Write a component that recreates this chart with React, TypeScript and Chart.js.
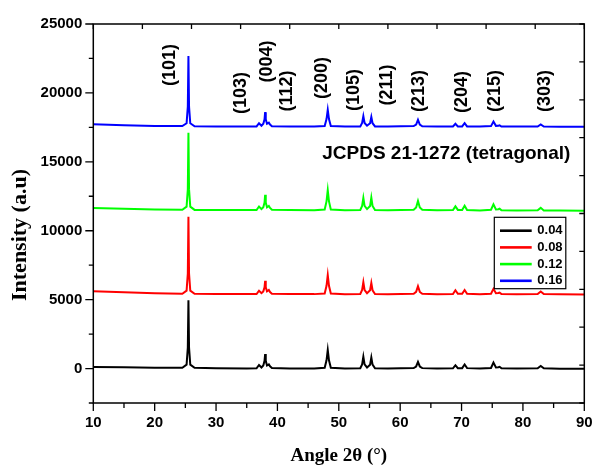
import React, { useEffect, useRef } from 'react';
import { Chart, registerables } from 'chart.js';

Chart.register(...registerables);

// 2θ positions (degrees)
const twoTheta = [
  10, 15, 20, 24.5, 25.2, 25.4, 25.5, 25.6, 25.8, 26.5,
  30, 35, 36.6, 37.0, 37.4, 37.7, 37.9, 38.0, 38.1, 38.3,
  38.6, 38.8, 39.1, 42, 46, 47.7, 48.0, 48.2, 48.4, 48.7,
  51, 53.5, 53.8, 54.0, 54.2, 54.6, 55.1, 55.3, 55.5, 55.9,
  58, 62.2, 62.6, 62.9, 63.2, 63.6, 66, 68.6, 69.0, 69.4,
  70.1, 70.5, 70.9, 73, 74.8, 75.2, 75.6, 76.0, 76.2, 76.5,
  79, 82.4, 82.9, 83.4, 86, 90,
];

const intensity004 = [
  120, 100, 60, 60, 280, 1530, 4960, 1530, 280, 60,
  20, 10, 20, 260, 80, 220, 560, 1050, 560, 220,
  300, 160, 40, 10, 10, 60, 600, 1350, 600, 60,
  0, 20, 300, 860, 300, 80, 280, 800, 280, 20,
  0, 40, 150, 480, 150, 30, 0, 20, 240, 30,
  30, 290, 30, 0, 40, 435, 80, 100, 130, 20,
  0, 20, 190, 20, -10, -20,
];

const intensity008 = [
  5600, 5530, 5460, 5430, 5650, 6900, 11010, 6900, 5650, 5430,
  5400, 5400, 5410, 5650, 5470, 5600, 5890, 6370, 5890, 5600,
  5700, 5550, 5430, 5400, 5400, 5450, 6000, 6780, 6000, 5450,
  5395, 5410, 5700, 6265, 5700, 5470, 5680, 6205, 5680, 5410,
  5390, 5430, 5560, 5970, 5560, 5420, 5390, 5410, 5680, 5420,
  5420, 5700, 5420, 5390, 5430, 5780, 5460, 5480, 5510, 5400,
  5390, 5400, 5590, 5400, 5385, 5380,
];

const intensity012 = [
  11650, 11600, 11540, 11520, 11750, 13000, 17110, 13000, 11750, 11510,
  11500, 11495, 11505, 11760, 11570, 11700, 12050, 12605, 12050, 11700,
  11800, 11650, 11520, 11495, 11490, 11540, 12130, 12940, 12130, 11540,
  11490, 11505, 11800, 12380, 11800, 11570, 11800, 12400, 11800, 11510,
  11485, 11530, 11690, 12165, 11690, 11520, 11480, 11500, 11770, 11510,
  11510, 11820, 11510, 11475, 11520, 11910, 11540, 11560, 11600, 11480,
  11470, 11480, 11660, 11475, 11460, 11450,
];

const intensity016 = [
  17720, 17660, 17600, 17590, 17800, 19000, 22680, 19000, 17800, 17580,
  17565, 17560, 17570, 17800, 17620, 17760, 18080, 18605, 18080, 17760,
  17840, 17700, 17580, 17560, 17560, 17600, 18100, 18770, 18100, 17600,
  17560, 17570, 17820, 18310, 17820, 17620, 17800, 18260, 17800, 17570,
  17555, 17590, 17700, 18050, 17700, 17580, 17555, 17570, 17760, 17570,
  17570, 17800, 17570, 17555, 17590, 17920, 17610, 17620, 17650, 17560,
  17555, 17560, 17710, 17560, 17552, 17550,
];

const seriesLabels = ['0.04', '0.08', '0.12', '0.16'];
const seriesValues = [intensity004, intensity008, intensity012, intensity016];
const seriesColors = ['#000000', '#ff0000', '#00ff00', '#0000ff'];

// tick values
const bottomMajorTicks = [10, 20, 30, 40, 50, 60, 70, 80, 90];
const bottomMinorTicks = [15, 25, 35, 45, 55, 65, 75, 85];
const leftMajorTicks = [0, 5000, 10000, 15000, 20000, 25000];
const leftMinorTicks = [-2500, 2500, 7500, 12500, 17500, 22500];
const topTicks = [10, 18, 26, 34, 42, 50, 58, 66, 74, 82, 90];
const rightTicks = [-2500, 250, 3000, 5750, 8500, 11250, 14000, 16750, 19500, 22250, 25000];

// (hkl) labels: text, 2θ, intensity
const peakLabels = ['(101)', '(103)', '(004)', '(112)', '(200)', '(105)', '(211)', '(213)', '(204)', '(215)', '(303)'];
const peakLabelX = [22.5, 34.0, 38.3, 41.5, 47.2, 52.5, 57.9, 63.0, 70.1, 75.4, 83.6];
const peakLabelY = [22023, 19990, 22277, 20135, 21079, 20208, 20571, 20135, 20062, 20135, 20135];

const cardText = 'JCPDS 21-1272 (tetragonal)';
const cardX = 47.3;
const cardY = 15560;

const SANS = '"Liberation Sans", Arial, sans-serif';
const SERIF = '"Liberation Serif", "Times New Roman", serif';

const decorPlugin = {
  id: 'decor',
  afterDraw(chart: any) {
    const { ctx, chartArea: a, scales } = chart;
    const x = scales.x;
    const y = scales.y;
    ctx.save();
    ctx.strokeStyle = '#000';
    ctx.lineWidth = 1.5;
    ctx.strokeRect(a.left, a.top, a.right - a.left, a.bottom - a.top);

    ctx.lineWidth = 1.3;
    ctx.beginPath();
    bottomMajorTicks.forEach((v) => {
      const px = x.getPixelForValue(v);
      ctx.moveTo(px, a.bottom);
      ctx.lineTo(px, a.bottom + 8);
    });
    bottomMinorTicks.forEach((v) => {
      const px = x.getPixelForValue(v);
      ctx.moveTo(px, a.bottom);
      ctx.lineTo(px, a.bottom + 5);
    });
    leftMajorTicks.forEach((v) => {
      const py = y.getPixelForValue(v);
      ctx.moveTo(a.left, py);
      ctx.lineTo(a.left - 8, py);
    });
    leftMinorTicks.forEach((v) => {
      const py = y.getPixelForValue(v);
      ctx.moveTo(a.left, py);
      ctx.lineTo(a.left - 4.5, py);
    });
    topTicks.forEach((v) => {
      const px = x.getPixelForValue(v);
      ctx.moveTo(px, a.top);
      ctx.lineTo(px, a.top + 5);
    });
    rightTicks.forEach((v) => {
      const py = y.getPixelForValue(v);
      ctx.moveTo(a.right, py);
      ctx.lineTo(a.right - 5, py);
    });
    ctx.stroke();

    // peak labels
    ctx.fillStyle = '#000';
    ctx.font = `bold 18px ${SANS}`;
    ctx.textAlign = 'center';
    ctx.textBaseline = 'middle';
    peakLabels.forEach((t, i) => {
      const px = x.getPixelForValue(peakLabelX[i]);
      const py = y.getPixelForValue(peakLabelY[i]);
      ctx.save();
      ctx.translate(px, py);
      ctx.rotate(-Math.PI / 2);
      ctx.fillText(t, 0, 0);
      ctx.restore();
    });

    // card text
    ctx.font = `bold 19px ${SANS}`;
    ctx.textAlign = 'left';
    ctx.fillText(cardText, x.getPixelForValue(cardX), y.getPixelForValue(cardY));

    // y title
    ctx.save();
    ctx.font = `bold 22px ${SERIF}`;
    ctx.textAlign = 'center';
    ctx.translate(20, 235);
    ctx.rotate(-Math.PI / 2);
    ctx.fillText('Intensity (a.u)', 0, 0);
    ctx.restore();

    // legend
    const bx = a.right - 90;
    const by = a.top + 193.3;
    const bw = 71.5;
    const bh = 71.4;
    ctx.fillStyle = '#fff';
    ctx.fillRect(bx, by, bw, bh);
    ctx.strokeStyle = '#000';
    ctx.lineWidth = 1.2;
    ctx.strokeRect(bx, by, bw, bh);
    ctx.font = `bold 13px ${SANS}`;
    ctx.textAlign = 'left';
    ctx.textBaseline = 'middle';
    chart.data.datasets.forEach((ds: any, i: number) => {
      const ry = by + 13.4 + i * 16.7;
      ctx.strokeStyle = ds.borderColor;
      ctx.lineWidth = 2.6;
      ctx.beginPath();
      ctx.moveTo(bx + 5.7, ry);
      ctx.lineTo(bx + 37.4, ry);
      ctx.stroke();
      ctx.fillStyle = '#000';
      ctx.fillText(ds.label, bx + 43, ry);
    });
    ctx.restore();
  },
};

export default function App() {
  const ref = useRef<HTMLCanvasElement | null>(null);
  useEffect(() => {
    if (!ref.current) return;
    const chart = new Chart(ref.current, {
      type: 'line',
      data: {
        datasets: seriesValues.map((vals, i) => ({
          label: seriesLabels[i],
          data: vals.map((v, j) => ({ x: twoTheta[j], y: v })),
          borderColor: seriesColors[i],
          backgroundColor: seriesColors[i],
          borderWidth: 2,
          pointRadius: 0,
          tension: 0,
          fill: false,
        })),
      },
      options: {
        responsive: false,
        animation: false,
        layout: { padding: { top: 24, right: 7.7, left: 0, bottom: 0 } },
        plugins: { legend: { display: false }, tooltip: { enabled: false } },
        scales: {
          x: {
            type: 'linear',
            min: 10,
            max: 90,
            grid: { display: false },
            border: { display: false },
            ticks: {
              color: '#000',
              padding: 3,
              maxRotation: 0,
              autoSkip: false,
              font: { family: SANS, size: 15, weight: 'bold' },
              callback: (v: any) => String(v),
            },
            afterBuildTicks: (s: any) => {
              s.ticks = bottomMajorTicks.map((v) => ({ value: v }));
            },
            title: {
              display: true,
              text: 'Angle 2θ (°)',
              color: '#000',
              font: { family: SERIF, size: 19, weight: 'bold', lineHeight: 1 },
              padding: { top: 0, bottom: 0 },
            },
            afterFit: (s: any) => {
              s.height = 63;
              s.paddingLeft = 0;
              s.paddingRight = 0;
            },
          },
          y: {
            type: 'linear',
            min: -2500,
            max: 25000,
            grid: { display: false },
            border: { display: false },
            ticks: {
              color: '#000',
              padding: 3,
              font: { family: SANS, size: 15, weight: 'bold' },
              callback: (v: any) => String(v),
            },
            afterBuildTicks: (s: any) => {
              s.ticks = leftMajorTicks.map((v) => ({ value: v }));
            },
            afterFit: (s: any) => {
              s.width = 93.3;
              s.paddingTop = 0;
              s.paddingBottom = 0;
            },
          },
        },
      } as any,
      plugins: [decorPlugin],
    });
    return () => chart.destroy();
  }, []);
  return (
    <canvas
      ref={ref}
      width={592}
      height={466}
      style={{ position: 'fixed', left: 0, top: 0, display: 'block', width: 592, height: 466 }}
    />
  );
}
